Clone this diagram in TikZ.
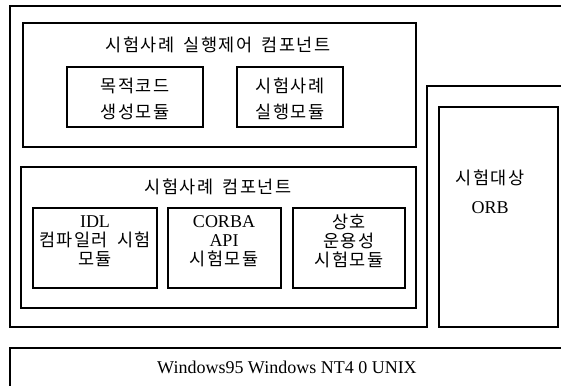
\documentclass[tikz,border=0pt]{standalone}
\usepackage{fontspec}
\setmainfont{Liberation Serif}
\newfontfamily\krfont[LetterSpace=8,WordSpace=1.8]{Noto Sans CJK KR}
\newcommand\ko[1]{{\krfont\fontsize{17.5}{19}\selectfont #1}}
\begin{document}
\begin{tikzpicture}[x=1pt,y=-1pt,line width=1.5pt,
  box/.style={draw,anchor=north west,inner sep=0pt,outer sep=0pt},
  txt/.style={align=center,inner sep=0pt,font=\fontsize{18}{19}\selectfont},
  txtw/.style={align=center,inner sep=0pt,font=\fontsize{18}{26}\selectfont}]
\useasboundingbox (0,0) rectangle (561,386);
% outer frames
\draw (561,6) -- (10,6) -- (10,327) -- (427,327) -- (427,86) -- (561,86);
\draw (561,348) -- (10,348) -- (10,386);
% component 1
\node[box,minimum width=393pt,minimum height=124pt] (comp1) at (23,23) {};
\node[txt] (t1) at (218,45) {\ko{시험사례 실행제어 컴포넌트}};
\node[box,minimum width=136pt,minimum height=60pt] (m1) at (67,67) {};
\node[box,minimum width=106pt,minimum height=60pt] (m2) at (237,67) {};
\node[txtw] (tm1) at (135,99) {\ko{목적코드}\\\ko{생성모듈}};
\node[txtw] (tm2) at (290,99) {\ko{시험사례}\\\ko{실행모듈}};
% component 2
\node[box,minimum width=395pt,minimum height=141pt] (comp2) at (21,167) {};
\node[txt] (t2) at (218,187) {\ko{시험사례 컴포넌트}};
\node[box,minimum width=124pt,minimum height=80pt] (r1) at (33,208) {};
\node[box,minimum width=113pt,minimum height=80pt] (r2) at (168,208) {};
\node[box,minimum width=112pt,minimum height=80pt] (r3) at (293,208) {};
\node[txt] (tr1) at (95,241) {IDL\\\ko{컴파일러 시험}\\\ko{모듈}};
\node[txt] (tr2) at (224,241) {CORBA\\API\\\ko{시험모듈}};
\node[txt] (tr3) at (349,241) {\ko{상호}\\\ko{운용성}\\\ko{시험모듈}};
% ORB
\node[box,minimum width=119pt,minimum height=220pt] (orb) at (439,107) {};
\node[align=center,inner sep=0pt,font=\fontsize{18}{29}\selectfont] (torb) at (490,192) {\ko{시험대상}\\ORB};
% platform
\node[inner sep=0pt,font=\fontsize{18}{19}\selectfont] (tos) at (287,367) {Windows95 Windows NT4 0 UNIX};
\end{tikzpicture}
\end{document}
